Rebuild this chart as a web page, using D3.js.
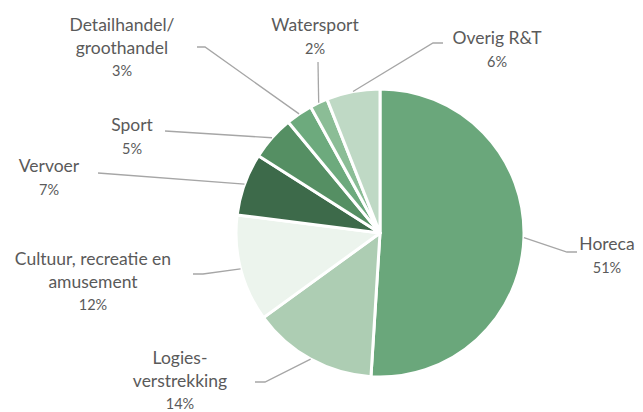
<!DOCTYPE html>
<html><head><meta charset="utf-8">
<script src="https://cdn.jsdelivr.net/npm/d3@7"></script>
<style>html,body{margin:0;padding:0;background:#fff}svg{display:block}</style>
</head><body>
<svg id="c" width="643" height="412"></svg>
<script>
const categories = ["Horeca","Logies-verstrekking","Cultuur, recreatie en amusement","Vervoer","Sport","Detailhandel/groothandel","Watersport","Overig R&T"];
const values = [51,14,12,7,5,3,2,6];
const labelLines = [["Horeca"],["Logies-","verstrekking"],["Cultuur, recreatie en","amusement"],["Vervoer"],["Sport"],["Detailhandel/","groothandel"],["Watersport"],["Overig R&T"]];
const colors = ["#6aa77b","#adcdb3","#ecf4ed","#3d6a4a","#558f63","#6daa7d","#8bbd96","#bfd9c5"];

// layout: label text anchor (center x, first baseline y) and leader elbow
const layout = [
  {tx:607, ty:250, ex:567, ey:252, hx:577},
  {tx:180, ty:364, ex:265, ey:382, hx:255},
  {tx:93,  ty:265, ex:203, ey:274, hx:193},
  {tx:49,  ty:172, ex:98,  ey:173, hx:98},
  {tx:132, ty:131, ex:165, ey:131, hx:165},
  {tx:122, ty:31,  ex:205, ey:47,  hx:197},
  {tx:315, ty:31,  ex:318, ey:62,  hx:318},
  {tx:497, ty:44,  ex:433, ey:43,  hx:443}
];

const svg = d3.select("#c");
const cx = 380, cy = 233, R = 144;
const g = svg.append("g").attr("transform",`translate(${cx},${cy})`);
const pie = d3.pie().sort(null).value(d=>d)(values);
const arc = d3.arc().innerRadius(0).outerRadius(R);
g.selectAll("path").data(pie).join("path")
  .attr("d",arc).attr("fill",(d,i)=>colors[i])
  .attr("stroke","#fff").attr("stroke-width",3).attr("stroke-linejoin","round");

pie.forEach((d,i)=>{
  const a = (d.startAngle+d.endAngle)/2;
  const px = cx + R*Math.sin(a), py = cy - R*Math.cos(a);
  const L = layout[i];
  svg.append("polyline")
    .attr("points",`${px},${py} ${L.ex},${L.ey} ${L.hx},${L.ey}`)
    .attr("fill","none").attr("stroke","#a6a6a6").attr("stroke-width",1.3);
  const t = svg.append("text").attr("text-anchor","middle")
    .attr("font-family","Lato, 'Open Sans', sans-serif").attr("fill","#5a5a5a");
  labelLines[i].forEach((ln,k)=>{
    t.append("tspan").attr("x",L.tx).attr("y",L.ty+k*22.5).attr("font-size",17.5).text(ln);
  });
  t.append("tspan").attr("x",L.tx).attr("y",L.ty+labelLines[i].length*22.5).attr("font-size",14.5).text(values[i]+"%");
});
</script>
</body></html>
